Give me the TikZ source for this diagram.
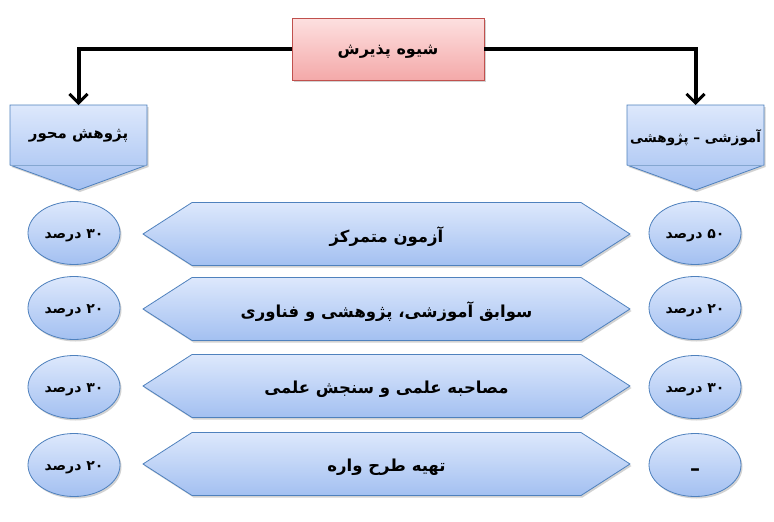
\documentclass[tikz,border=0pt]{standalone}
\usepackage{fontspec}
\usetikzlibrary{arrows.meta,shapes.geometric,shadows,calc}
\TeXXeTstate=1
\newfontfamily\arabicfont[Script=Arabic]{DejaVu Sans}
\definecolor{bluetop}{HTML}{DDE8FC}
\definecolor{bluebot}{HTML}{A3C0F1}
\definecolor{blueline}{HTML}{4F81BD}
\definecolor{pinktop}{HTML}{FDE0E0}
\definecolor{pinkbot}{HTML}{F4A9A9}
\definecolor{redline}{HTML}{C0504D}
\tikzset{
  x=1pt, y=-1pt,
  bluefill/.style={draw=blueline, line width=0.8pt, top color=bluetop, bottom color=bluebot,
    drop shadow={shadow xshift=1.5pt, shadow yshift=-2pt, fill=black!35, opacity=0.5}},
  txt/.style={font=\arabicfont\bfseries\fontsize{16.5}{19}\selectfont, inner sep=0pt, yshift=-3pt},
  ctxt/.style={font=\arabicfont\bfseries\fontsize{15}{17}\selectfont, inner sep=0pt, yshift=-2pt},
  pct/.style={ellipse, bluefill, minimum width=92pt, minimum height=63pt, inner sep=0pt},
  pcttxt/.style={font=\arabicfont\bfseries\fontsize{14}{16}\selectfont, inner sep=0pt, yshift=-2.5pt},
  topbox/.style={draw=redline, line width=0.8pt, top color=pinktop, bottom color=pinkbot,
    minimum width=192pt, minimum height=62pt, inner sep=0pt,
    drop shadow={shadow xshift=1.5pt, shadow yshift=-2pt, fill=black!35, opacity=0.5}},
  conn/.style={line width=4pt, -{Straight Barb[length=9pt,width=18pt,line width=3pt]}},
}
\newcommand{\hexshape}[1]{%
  \path[bluefill] (143,#1) -- (192,#1-31.5) -- (581,#1-31.5) -- (630,#1) -- (581,#1+31.5) -- (192,#1+31.5) -- cycle;
}
\newcommand{\calloutshape}[2]{%
  \path[bluefill] (#1,105) -- (#2,105) -- (#2,165) -- ({(#1+#2)/2},190) -- (#1,165) -- cycle;
  \draw[blueline!70, line width=0.6pt] (#1,165) -- (#2,165);
}
\begin{document}
\begin{tikzpicture}
\useasboundingbox[fill=white] (0,0) rectangle (774,522);
\node[topbox] (top) at (388,49) {};
\node[txt, font=\arabicfont\bfseries\fontsize{16}{18}\selectfont] (toptxt) at (388,49) {\beginR شیوه پذیرش\endR};
\calloutshape{10}{147}
\calloutshape{627}{764}
\coordinate (lcn) at (78.5,105);
\coordinate (rcn) at (695.5,105);
\node[ctxt] (lc) at (78.5,134) {\beginR پژوهش محور\endR};
\node[ctxt, font=\arabicfont\bfseries\fontsize{13.5}{16}\selectfont] (rc) at (695.5,136) {\beginR آموزشی – پژوهشی\endR};
\draw[conn] (top.west) -| (lcn);
\draw[conn] (top.east) -| (rcn);
\hexshape{234}
\hexshape{309}
\hexshape{386}
\hexshape{464}
\node[txt] (h1) at (386.5,234) {\beginR آزمون متمرکز\endR};
\node[txt] (h2) at (386.5,309) {\beginR سوابق آموزشی، پژوهشی و فناوری\endR};
\node[txt] (h3) at (386.5,386) {\beginR مصاحبه علمی و سنجش علمی\endR};
\node[txt] (h4) at (386.5,464) {\beginR تهیه طرح واره\endR};
\node[pct] (l1) at (74,233) {};
\node[pct] (l2) at (74,308) {};
\node[pct] (l3) at (74,387) {};
\node[pct] (l4) at (74,465) {};
\node[pct] (r1) at (695,233) {};
\node[pct] (r2) at (695,308) {};
\node[pct] (r3) at (695,387) {};
\node[pct] (r4) at (695,465) {};
\node[pcttxt] (l1t) at (l1) {\beginR ۳۰ درصد\endR};
\node[pcttxt] (l2t) at (l2) {\beginR ۲۰ درصد\endR};
\node[pcttxt] (l3t) at (l3) {\beginR ۳۰ درصد\endR};
\node[pcttxt] (l4t) at (l4) {\beginR ۲۰ درصد\endR};
\node[pcttxt] (r1t) at (r1) {\beginR ۵۰ درصد\endR};
\node[pcttxt] (r2t) at (r2) {\beginR ۲۰ درصد\endR};
\node[pcttxt] (r3t) at (r3) {\beginR ۳۰ درصد\endR};
\node[font=\arabicfont\bfseries\fontsize{20}{22}\selectfont, inner sep=0pt] (r4t) at (695,472) {–};
\end{tikzpicture}
\end{document}
